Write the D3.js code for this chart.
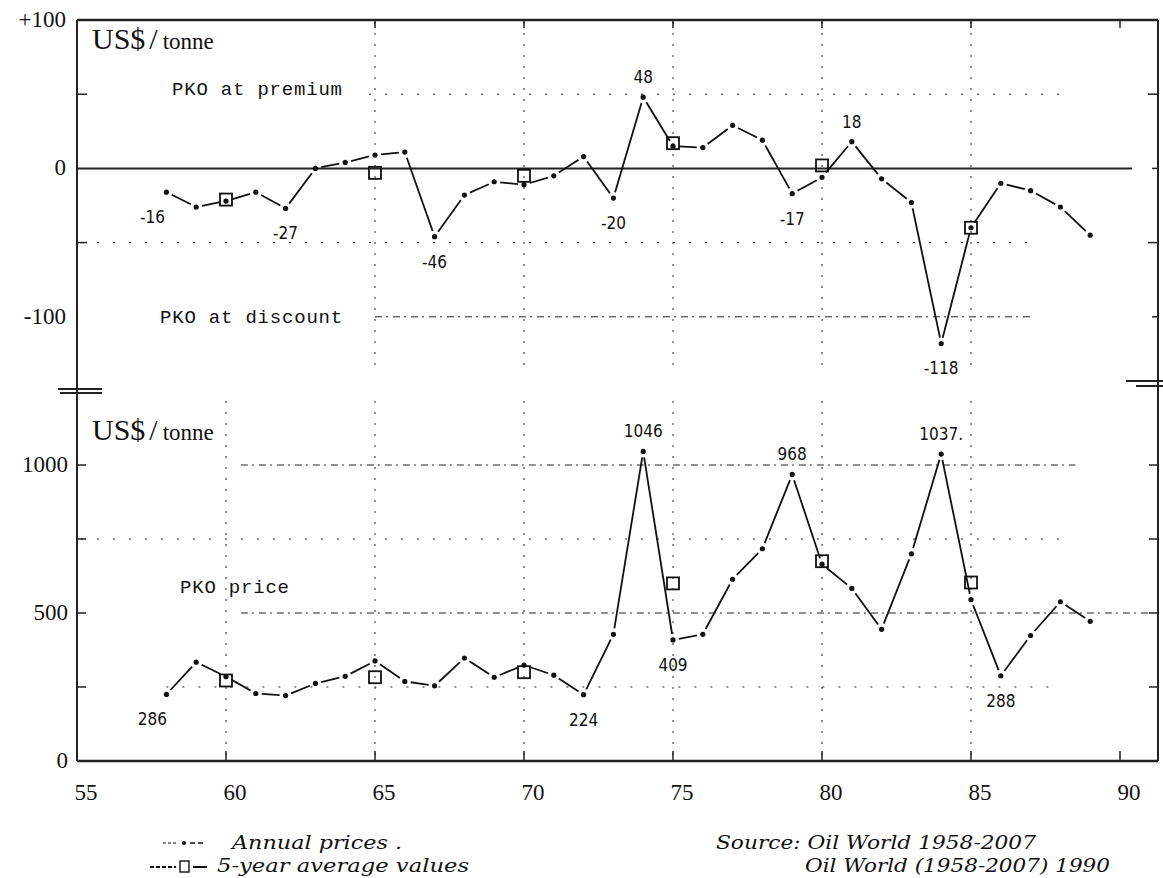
<!DOCTYPE html>
<html>
<head>
<meta charset="utf-8">
<script src="https://cdn.jsdelivr.net/npm/d3@7"></script>
<style>
    body { margin: 0; background: #fff; }
    svg { display: block; }
    .tick-label { font-family: 'Liberation Serif', 'Times New Roman', serif; font-size: 23px; fill: #111; }
    .unit-big { font-family: 'Liberation Serif', serif; font-size: 30px; fill: #111; }
    .unit-small { font-family: 'Liberation Serif', serif; font-size: 23px; fill: #111; }
    .note { font-family: 'Liberation Mono', monospace; font-size: 19px; letter-spacing: 0.8px; fill: #111; }
    .hand { font-family: 'DejaVu Sans', sans-serif; font-size: 17px; font-stretch: condensed; fill: #111; }
    .foot { font-family: 'DejaVu Serif', serif; font-style: italic; font-size: 19px; fill: #111; }
</style>
</head>
<body>
<div id="vis"></div>
<script>
'use strict';

//years of annual data
var years = [58, 59, 60, 61, 62, 63, 64, 65, 66, 67, 68, 69, 70, 71, 72, 73,
    74, 75, 76, 77, 78, 79, 80, 81, 82, 83, 84, 85, 86, 87, 88, 89];

//PKO premium / discount, US$/tonne
var premium = [-16, -26, -22, -16, -27, 0, 4, 9, 11, -46, -18, -9, -11, -5, 8, -20,
    48, 15, 14, 29, 19, -17, -6, 18, -7, -23, -118, -40, -10, -15, -26, -45];

//PKO price, US$/tonne
var price = [225, 334, 285, 228, 221, 262, 286, 338, 269, 254, 348, 283, 324, 290, 224, 428,
    1046, 409, 428, 614, 717, 968, 665, 583, 445, 700, 1037, 545, 288, 424, 538, 472];

//5-year averages
var avgYears = [60, 65, 70, 75, 80, 85];
var premiumAvg = [-21, -3, -5, 17, 2, -40];
var priceAvg = [272, 283, 300, 600, 675, 603];

//hand-written annotations
var premiumNoteYears = [58, 62, 67, 73, 74, 79, 81, 84];
var premiumNoteText = ['-16', '-27', '-46', '-20', '48', '-17', '18', '-118'];
var priceNoteYears = [58, 72, 74, 75, 79, 84, 86];
var priceNoteText = ['286', '224', '1046', '409', '968', '1037.', '288'];

//ticks
var xTicks = [55, 60, 65, 70, 75, 80, 85, 90];
var premiumTicks = [100, 0, -100];
var premiumTickLabels = ['+100', '0', '-100'];
var priceTicks = [1000, 500, 0];

//layout
var W = 1163, H = 878;
var left = 77, right = 1158;
var topY = 20, breakY = 391, bottomY = 761;

var x = d3.scaleLinear().domain([55, 90]).range([left, 1120]);
var yTop = d3.scaleLinear().domain([-150, 100]).range([breakY, topY]);
var yBot = d3.scaleLinear().domain([0, 1250]).range([bottomY, breakY]);

var svg = d3.select('#vis').append('svg')
    .attr('width', W)
    .attr('height', H);

var gridDot = '2, 9';
var gridSparse = '2, 14';
var gridDashLong = '7, 4, 2, 5';

function hLine(y, x1, x2, dash, w) {
    svg.append('line')
        .attr('x1', x1).attr('x2', x2)
        .attr('y1', y).attr('y2', y)
        .attr('stroke', '#222')
        .attr('stroke-width', w || 1)
        .attr('stroke-dasharray', dash || null);
}

function vLine(xp, y1, y2, dash, w) {
    svg.append('line')
        .attr('x1', xp).attr('x2', xp)
        .attr('y1', y1).attr('y2', y2)
        .attr('stroke', '#222')
        .attr('stroke-width', w || 1)
        .attr('stroke-dasharray', dash || null);
}

//grid of the premium panel
[65, 70, 75, 80, 85].forEach(function (v) {
    vLine(x(v), topY + 2, breakY - 20, gridDot);
});
hLine(yTop(50), x(64.8), x(88), gridSparse);
hLine(yTop(-50), left + 4, x(87), gridSparse);
hLine(yTop(-100), x(65), x(87), gridDashLong);

//grid of the price panel
[60, 65, 70, 75, 80, 85].forEach(function (v) {
    vLine(x(v), breakY + 10, bottomY - 2, gridDot);
});
hLine(yBot(1000), x(60.5), x(88.5), gridDashLong);
hLine(yBot(750), left + 4, x(88), gridSparse);
hLine(yBot(500), x(60.5), x(91), gridDashLong);
hLine(yBot(250), x(58), x(88), gridSparse);

//frame
hLine(topY, left, right, null, 2.5);
hLine(bottomY, left, right, null, 2.5);
vLine(left, topY, bottomY, null, 2);
vLine(right, topY, bottomY, null, 2);

//zero line of the premium
hLine(yTop(0), left, 1132, null, 2);

//axis breaks
hLine(breakY - 2, 58, 102, null, 2);
hLine(breakY + 2, 60, 102, null, 2);
hLine(breakY - 10, 1126, W, null, 2);
hLine(breakY - 5, 1136, W, null, 2);

//ticks on the frame
xTicks.slice(1).forEach(function (v) {
    vLine(x(v), bottomY, bottomY - 10, null, 1.5);
    if (v > 60) {
        vLine(x(v), topY, topY + 8, null, 1.5);
    }
});
[50, -50].forEach(function (v) {
    hLine(yTop(v), left, left + 10, null, 1.5);
    hLine(yTop(v), right, right - 10, null, 1.5);
});
[0, -100].forEach(function (v) {
    hLine(yTop(v), right, right - 6, null, 1.5);
});
[1000, 750, 500, 250].forEach(function (v) {
    hLine(yBot(v), left, left + 9, null, 1.5);
    hLine(yBot(v), right, right - 9, null, 1.5);
});

//tick labels
premiumTicks.forEach(function (v, i) {
    svg.append('text')
        .attr('x', 66)
        .attr('y', yTop(v) + 7)
        .attr('text-anchor', 'end')
        .attr('class', 'tick-label')
        .text(premiumTickLabels[i]);
});
priceTicks.forEach(function (v) {
    svg.append('text')
        .attr('x', 68)
        .attr('y', yBot(v) + 7)
        .attr('text-anchor', 'end')
        .attr('class', 'tick-label')
        .text(v);
});
xTicks.forEach(function (v) {
    svg.append('text')
        .attr('x', x(v) + 9)
        .attr('y', 800)
        .attr('text-anchor', 'middle')
        .attr('class', 'tick-label')
        .text(v);
});

//units
function drawUnit(y) {
    var t = svg.append('text').attr('x', 92).attr('y', y);
    t.append('tspan').attr('class', 'unit-big').text('US$');
    t.append('tspan').attr('class', 'unit-big').attr('dx', 4).text('/');
    t.append('tspan').attr('class', 'unit-small').attr('dx', 5).text('tonne');
}
drawUnit(49);
drawUnit(440);

//panel notes
svg.append('text').attr('x', 172).attr('y', 95).attr('class', 'note').text('PKO at premium');
svg.append('text').attr('x', 160).attr('y', 323).attr('class', 'note').text('PKO at discount');
svg.append('text').attr('x', 180).attr('y', 593).attr('class', 'note').text('PKO price');

//series: segments with gaps round each dot
var gap = 6;

function drawSeries(values, y) {
    var pts = years.map(function (d, i) { return [x(d), y(values[i])]; });
    var segs = d3.pairs(pts);
    svg.selectAll(null)
        .data(segs)
        .enter()
        .append('line')
        .each(function (s) {
            var dx = s[1][0] - s[0][0], dy = s[1][1] - s[0][1];
            var len = Math.sqrt(dx * dx + dy * dy);
            var g = Math.min(gap, len * 0.3);
            d3.select(this)
                .attr('x1', s[0][0] + dx / len * g)
                .attr('y1', s[0][1] + dy / len * g)
                .attr('x2', s[1][0] - dx / len * g)
                .attr('y2', s[1][1] - dy / len * g);
        })
        .attr('stroke', '#111')
        .attr('stroke-width', 1.8);
    svg.selectAll(null)
        .data(pts)
        .enter()
        .append('circle')
        .attr('cx', function (d) { return d[0]; })
        .attr('cy', function (d) { return d[1]; })
        .attr('r', 2.6)
        .attr('fill', '#111');
}

function drawAverages(values, y) {
    svg.selectAll(null)
        .data(avgYears)
        .enter()
        .append('rect')
        .attr('x', function (d) { return x(d) - 6; })
        .attr('y', function (d, i) { return y(values[i]) - 6; })
        .attr('width', 12)
        .attr('height', 12)
        .attr('fill', 'none')
        .attr('stroke', '#111')
        .attr('stroke-width', 1.8);
}

function drawNotes(noteYears, noteText, values, y) {
    noteYears.forEach(function (yr, i) {
        var v = values[years.indexOf(yr)];
        var prev = values[years.indexOf(yr) - 1];
        var above = prev === undefined ? false : v > prev;
        svg.append('text')
            .attr('x', x(yr) + (i === 0 ? -14 : 0))
            .attr('y', y(v) + (above ? -20 : 25))
            .attr('dy', '0.35em')
            .attr('text-anchor', 'middle')
            .attr('class', 'hand')
            .text(noteText[i]);
    });
}

drawSeries(premium, yTop);
drawAverages(premiumAvg, yTop);
drawNotes(premiumNoteYears, premiumNoteText, premium, yTop);

drawSeries(price, yBot);
drawAverages(priceAvg, yBot);
drawNotes(priceNoteYears, priceNoteText, price, yBot);

//legend
var lg = svg.append('g');
lg.append('line').attr('x1', 163).attr('x2', 178).attr('y1', 843).attr('y2', 843)
    .attr('stroke', '#111').attr('stroke-width', 1.2).attr('stroke-dasharray', '3, 2');
lg.append('circle').attr('cx', 184).attr('cy', 843).attr('r', 2).attr('fill', '#111');
lg.append('line').attr('x1', 190).attr('x2', 204).attr('y1', 843).attr('y2', 843)
    .attr('stroke', '#111').attr('stroke-width', 1.6).attr('stroke-dasharray', '5, 3');
lg.append('text').attr('x', 232).attr('y', 849).attr('class', 'foot')
    .attr('textLength', 170).attr('lengthAdjust', 'spacingAndGlyphs').text('Annual prices .');

lg.append('line').attr('x1', 150).attr('x2', 176).attr('y1', 867).attr('y2', 867)
    .attr('stroke', '#111').attr('stroke-width', 2).attr('stroke-dasharray', '4, 2');
lg.append('rect').attr('x', 180).attr('y', 861).attr('width', 9).attr('height', 11)
    .attr('fill', 'none').attr('stroke', '#111').attr('stroke-width', 1.4);
lg.append('line').attr('x1', 193).attr('x2', 207).attr('y1', 867).attr('y2', 867)
    .attr('stroke', '#111').attr('stroke-width', 2);
lg.append('text').attr('x', 217).attr('y', 872).attr('class', 'foot')
    .attr('textLength', 252).attr('lengthAdjust', 'spacingAndGlyphs').text('5-year average values');

//source
svg.append('text').attr('x', 716).attr('y', 849).attr('class', 'foot')
    .attr('textLength', 320).attr('lengthAdjust', 'spacingAndGlyphs').text('Source: Oil World 1958-2007');
svg.append('text').attr('x', 805).attr('y', 872).attr('class', 'foot')
    .attr('textLength', 305).attr('lengthAdjust', 'spacingAndGlyphs').text('Oil World (1958-2007) 1990');
</script>
</body>
</html>
